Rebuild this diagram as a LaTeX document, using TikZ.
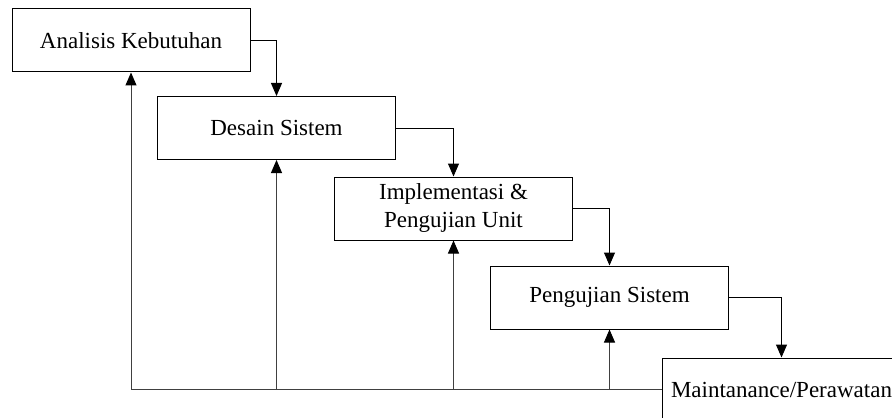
\documentclass[tikz,border=0pt]{standalone}
\usepackage{fontspec}
\setmainfont{Liberation Serif}
\usetikzlibrary{arrows.meta, positioning}

\begin{document}
\begin{tikzpicture}[x=0.5pt, y=-0.5pt,
  stage/.style={draw, line width=0.5pt, minimum width=119pt, minimum height=31.5pt, inner sep=2pt, align=center, font=\fontsize{11.5}{14}\selectfont},
  flow/.style={-{Triangle[width=5.5pt,length=6.5pt,color=black]}, line width=0.5pt},
  back/.style={line width=0.65pt, draw=black!75}]
  \useasboundingbox (0,0) rectangle (892,417);
  \clip (0,0) rectangle (892,417);

  % stages of the waterfall
  \node[stage] (analisis) at (131,40.5) {Analisis Kebutuhan};
  \node[stage] (desain) at (276.5,128) {Desain Sistem};
  \node[stage] (implementasi) at (453.5,208.5) {Implementasi \&\\Pengujian Unit};
  \node[stage] (pengujian) at (609.5,297.5) {Pengujian Sistem};
  \node[stage] (maint) at (781.5,389.5) {Maintanance/Perawatan};

  % flow down
  \draw[flow] (analisis.east) -| (desain.north);
  \draw[flow] (desain.east) -| (implementasi.north);
  \draw[flow] (implementasi.east) -| (pengujian.north);
  \draw[flow] (pengujian.east) -| (maint.north);

  % feedback back up
  \coordinate (pojok) at (analisis |- maint.west);
  \draw[back] (maint.west) -- (pojok);
  \draw[back, flow] (pojok) -- (analisis.south);
  \draw[back, flow] (desain |- maint.west) -- (desain.south);
  \draw[back, flow] (implementasi |- maint.west) -- (implementasi.south);
  \draw[back, flow] (pengujian |- maint.west) -- (pengujian.south);
\end{tikzpicture}
\end{document}
